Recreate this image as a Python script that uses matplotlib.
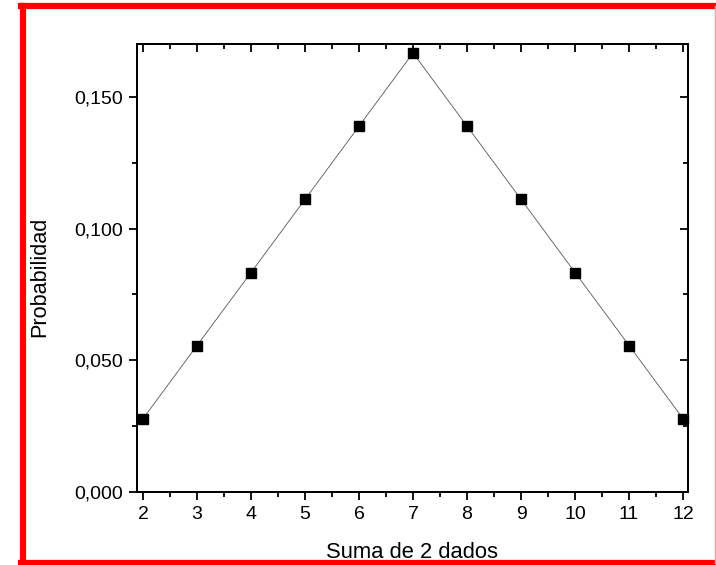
import matplotlib
matplotlib.use("Agg")
import matplotlib.pyplot as plt
from matplotlib.ticker import MultipleLocator, FuncFormatter
from matplotlib.lines import Line2D

plt.rcParams['font.family'] = ['Liberation Sans', 'DejaVu Sans']

suma = [2, 3, 4, 5, 6, 7, 8, 9, 10, 11, 12]
prob = [0.0278, 0.0556, 0.0833, 0.1111, 0.1389, 0.1667,
        0.1389, 0.1111, 0.0833, 0.0556, 0.0278]

W, H = 716, 565
fig = plt.figure(figsize=(W / 100, H / 100), dpi=100)
ax = fig.add_axes([137 / W, 1 - 492 / H, (688 - 137) / W, (492 - 44) / H])

ax.plot(suma, prob, color='#555555', lw=0.6, marker='s', ms=7,
        mfc='black', mec='black', zorder=3, clip_on=False)

ax.set_xlim(1.89, 12.09)
ax.set_ylim(0, 0.1701)
ax.xaxis.set_major_locator(MultipleLocator(1))
ax.xaxis.set_minor_locator(MultipleLocator(0.5))
ax.yaxis.set_major_locator(MultipleLocator(0.05))
ax.yaxis.set_minor_locator(MultipleLocator(0.025))
ax.yaxis.set_major_formatter(FuncFormatter(lambda v, p: ('%.3f' % v).replace('.', ',')))

for s in ax.spines.values():
    s.set_linewidth(1.3)

# bottom/left ticks outward, top/right ticks inward
ax.tick_params(which='both', direction='out', width=1.3, labelsize=14,
               top=False, right=False)
ax.tick_params(which='major', length=6, pad=4)
ax.tick_params(which='minor', length=3.5)

ax2 = ax.twinx()
ax2.set_ylim(ax.get_ylim())
ax2.yaxis.set_major_locator(MultipleLocator(0.05))
ax2.yaxis.set_minor_locator(MultipleLocator(0.025))
ax2.tick_params(which='both', direction='in', width=1.3, labelright=False)
ax2.tick_params(which='major', length=6)
ax2.tick_params(which='minor', length=3.5)
ax3 = ax.twiny()
ax3.set_xlim(ax.get_xlim())
ax3.xaxis.set_major_locator(MultipleLocator(1))
ax3.xaxis.set_minor_locator(MultipleLocator(0.5))
ax3.tick_params(which='both', direction='in', width=1.3, labeltop=False)
ax3.tick_params(which='major', length=6)
ax3.tick_params(which='minor', length=3.5)
for a in (ax2, ax3):
    for s in a.spines.values():
        s.set_linewidth(1.3)

ax.set_xlabel('Suma de 2 dados', fontsize=15.8, labelpad=14)
ax.set_ylabel('Probabilidad', fontsize=15.6)
ax.yaxis.set_label_coords(-0.157, 0.48)

# red frame around the figure
red = 'red'
fig.add_artist(Line2D([23 / W, 23 / W], [1 - 5.5 / H, 1 - 562.5 / H], color=red, lw=4.5, transform=fig.transFigure))
fig.add_artist(Line2D([21 / W, 1], [1 - 5.5 / H, 1 - 5.5 / H], color=red, lw=4.5, transform=fig.transFigure))
fig.add_artist(Line2D([21 / W, 1], [1 - 562.5 / H, 1 - 562.5 / H], color=red, lw=4.5, transform=fig.transFigure))
fig.add_artist(Line2D([715 / W, 715 / W], [1 - 5.5 / H, 1 - 562.5 / H], color='#f4a0a0', lw=1, transform=fig.transFigure))

fig.savefig('out.png', dpi=100)
